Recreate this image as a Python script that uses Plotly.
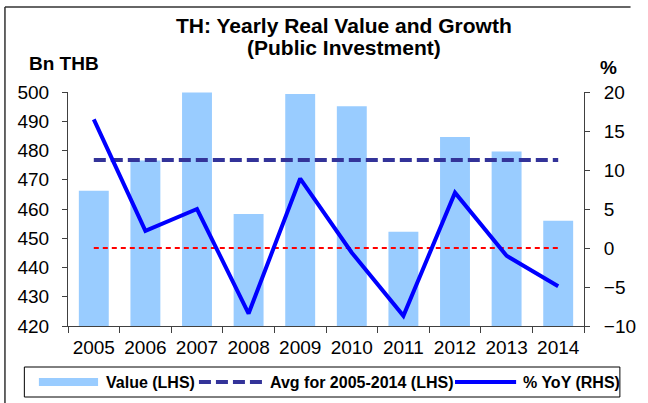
import plotly.graph_objects as go

years = ["2005", "2006", "2007", "2008", "2009", "2010", "2011", "2012", "2013", "2014"]
value_lhs = [466.2, 476.6, 499.8, 458.3, 499.3, 495.1, 452.2, 484.6, 479.7, 456.0]
yoy_rhs = [16.5, 2.2, 5.0, -8.4, 8.9, -0.6, -8.7, 7.1, -1.0, -4.9]
avg_value = sum(value_lhs) / len(value_lhs)
avg_lhs = [avg_value] * len(years)
zero_rhs = [0] * len(years)

FONT = "Liberation Sans, Arial, sans-serif"
W, H = 648, 403
L, R, T, B = 68, 600, 92, 326


def px_x(p):
    return (p - L) / (R - L)


def px_y(p):
    return (B - p) / (B - T)


fig = go.Figure()
fig.add_trace(go.Bar(x=years, y=value_lhs, marker=dict(color="#99CCFF", line=dict(width=0)),
                     width=0.58, name="Value (LHS)", yaxis="y"))
fig.add_trace(go.Scatter(x=years, y=avg_lhs, mode="lines", yaxis="y",
                         line=dict(color="#333399", width=4, dash="12px,5px"),
                         name="Avg for 2005-2014 (LHS)"))
fig.add_trace(go.Scatter(x=years, y=zero_rhs, mode="lines", yaxis="y2",
                         line=dict(color="#FF0000", width=2, dash="5px,4px"), name="zero"))
fig.add_trace(go.Scatter(x=years, y=yoy_rhs, mode="lines", yaxis="y2",
                         line=dict(color="#0000FF", width=4), name="% YoY (RHS)"))

axis_col = "#404040"
fig.update_layout(
    width=W, height=H, autosize=False,
    margin=dict(l=L, r=W - R, t=T, b=H - B, pad=0),
    paper_bgcolor="white", plot_bgcolor="white",
    showlegend=False,
    font=dict(family=FONT, color="black"),
    xaxis=dict(type="category", showline=True, linecolor=axis_col, linewidth=1,
               ticks="outside", tickson="boundaries", ticklen=6, tickcolor=axis_col,
               tickfont=dict(size=19, family=FONT), tickangle=0, showgrid=False, zeroline=False,
               ticklabelstandoff=4),
    yaxis=dict(range=[420, 500], dtick=10, showline=True, linecolor=axis_col, linewidth=1,
               ticks="outside", ticklen=5, tickcolor=axis_col, tickfont=dict(size=19, family=FONT),
               showgrid=False, zeroline=False, ticklabelstandoff=9),
    yaxis2=dict(range=[-10, 20], dtick=5, overlaying="y", side="right", showline=True,
                linecolor=axis_col, linewidth=1, ticks="outside", ticklen=5, tickcolor=axis_col,
                tickfont=dict(size=19, family=FONT), showgrid=False, zeroline=False,
                ticklabelstandoff=10),
)

ann = []
ann.append(dict(text="<b>TH: Yearly Real Value and Growth</b>",
                xref="paper", yref="paper", x=px_x(353), y=px_y(26), xanchor="center", yanchor="middle",
                showarrow=False, font=dict(size=21, family=FONT)))
ann.append(dict(text="<b>(Public Investment)</b>",
                xref="paper", yref="paper", x=px_x(353), y=px_y(47), xanchor="center", yanchor="middle",
                showarrow=False, font=dict(size=21, family=FONT)))
ann.append(dict(text="<b>Bn THB</b>", xref="paper", yref="paper", x=px_x(26), y=px_y(63),
                xanchor="left", yanchor="middle", showarrow=False, font=dict(size=19, family=FONT)))
ann.append(dict(text="<b>%</b>", xref="paper", yref="paper", x=px_x(625), y=px_y(68),
                xanchor="center", yanchor="middle", showarrow=False, font=dict(size=19, family=FONT)))

shapes = []
# outer frame (top and left edges)
shapes.append(dict(type="line", xref="paper", yref="paper", x0=px_x(3), x1=px_x(648), y0=px_y(7), y1=px_y(7),
                   line=dict(color="#333333", width=1.5)))
shapes.append(dict(type="line", xref="paper", yref="paper", x0=px_x(3), x1=px_x(3), y0=px_y(7), y1=px_y(403),
                   line=dict(color="#333333", width=1.5)))
# legend box
shapes.append(dict(type="rect", xref="paper", yref="paper", x0=px_x(23), x1=px_x(637), y0=px_y(367), y1=px_y(397),
                   line=dict(color="black", width=1), fillcolor="white"))
ly = 382
shapes.append(dict(type="rect", xref="paper", yref="paper", x0=px_x(38), x1=px_x(99), y0=px_y(378), y1=px_y(386),
                   line=dict(width=0), fillcolor="#99CCFF"))
shapes.append(dict(type="line", xref="paper", yref="paper", x0=px_x(203), x1=px_x(269), y0=px_y(ly), y1=px_y(ly),
                   line=dict(color="#333399", width=4, dash="12px,5px")))
shapes.append(dict(type="line", xref="paper", yref="paper", x0=px_x(467), x1=px_x(530), y0=px_y(ly), y1=px_y(ly),
                   line=dict(color="#0000FF", width=4)))
for txt, xp in [("Value (LHS)", 105), ("Avg for 2005-2014 (LHS)", 274), ("% YoY (RHS)", 535)]:
    ann.append(dict(text="<b>" + txt + "</b>", xref="paper", yref="paper", x=px_x(xp), y=px_y(ly),
                    xanchor="left", yanchor="middle", showarrow=False, font=dict(size=16, family=FONT)))

fig.update_layout(annotations=ann, shapes=shapes)
post = (
    "document.documentElement.style.overflow='hidden';"
    "document.body.style.margin='0';"
    "document.body.style.overflow='hidden';"
)
fig.write_html("out.html", config={"displayModeBar": False}, post_script=post)
